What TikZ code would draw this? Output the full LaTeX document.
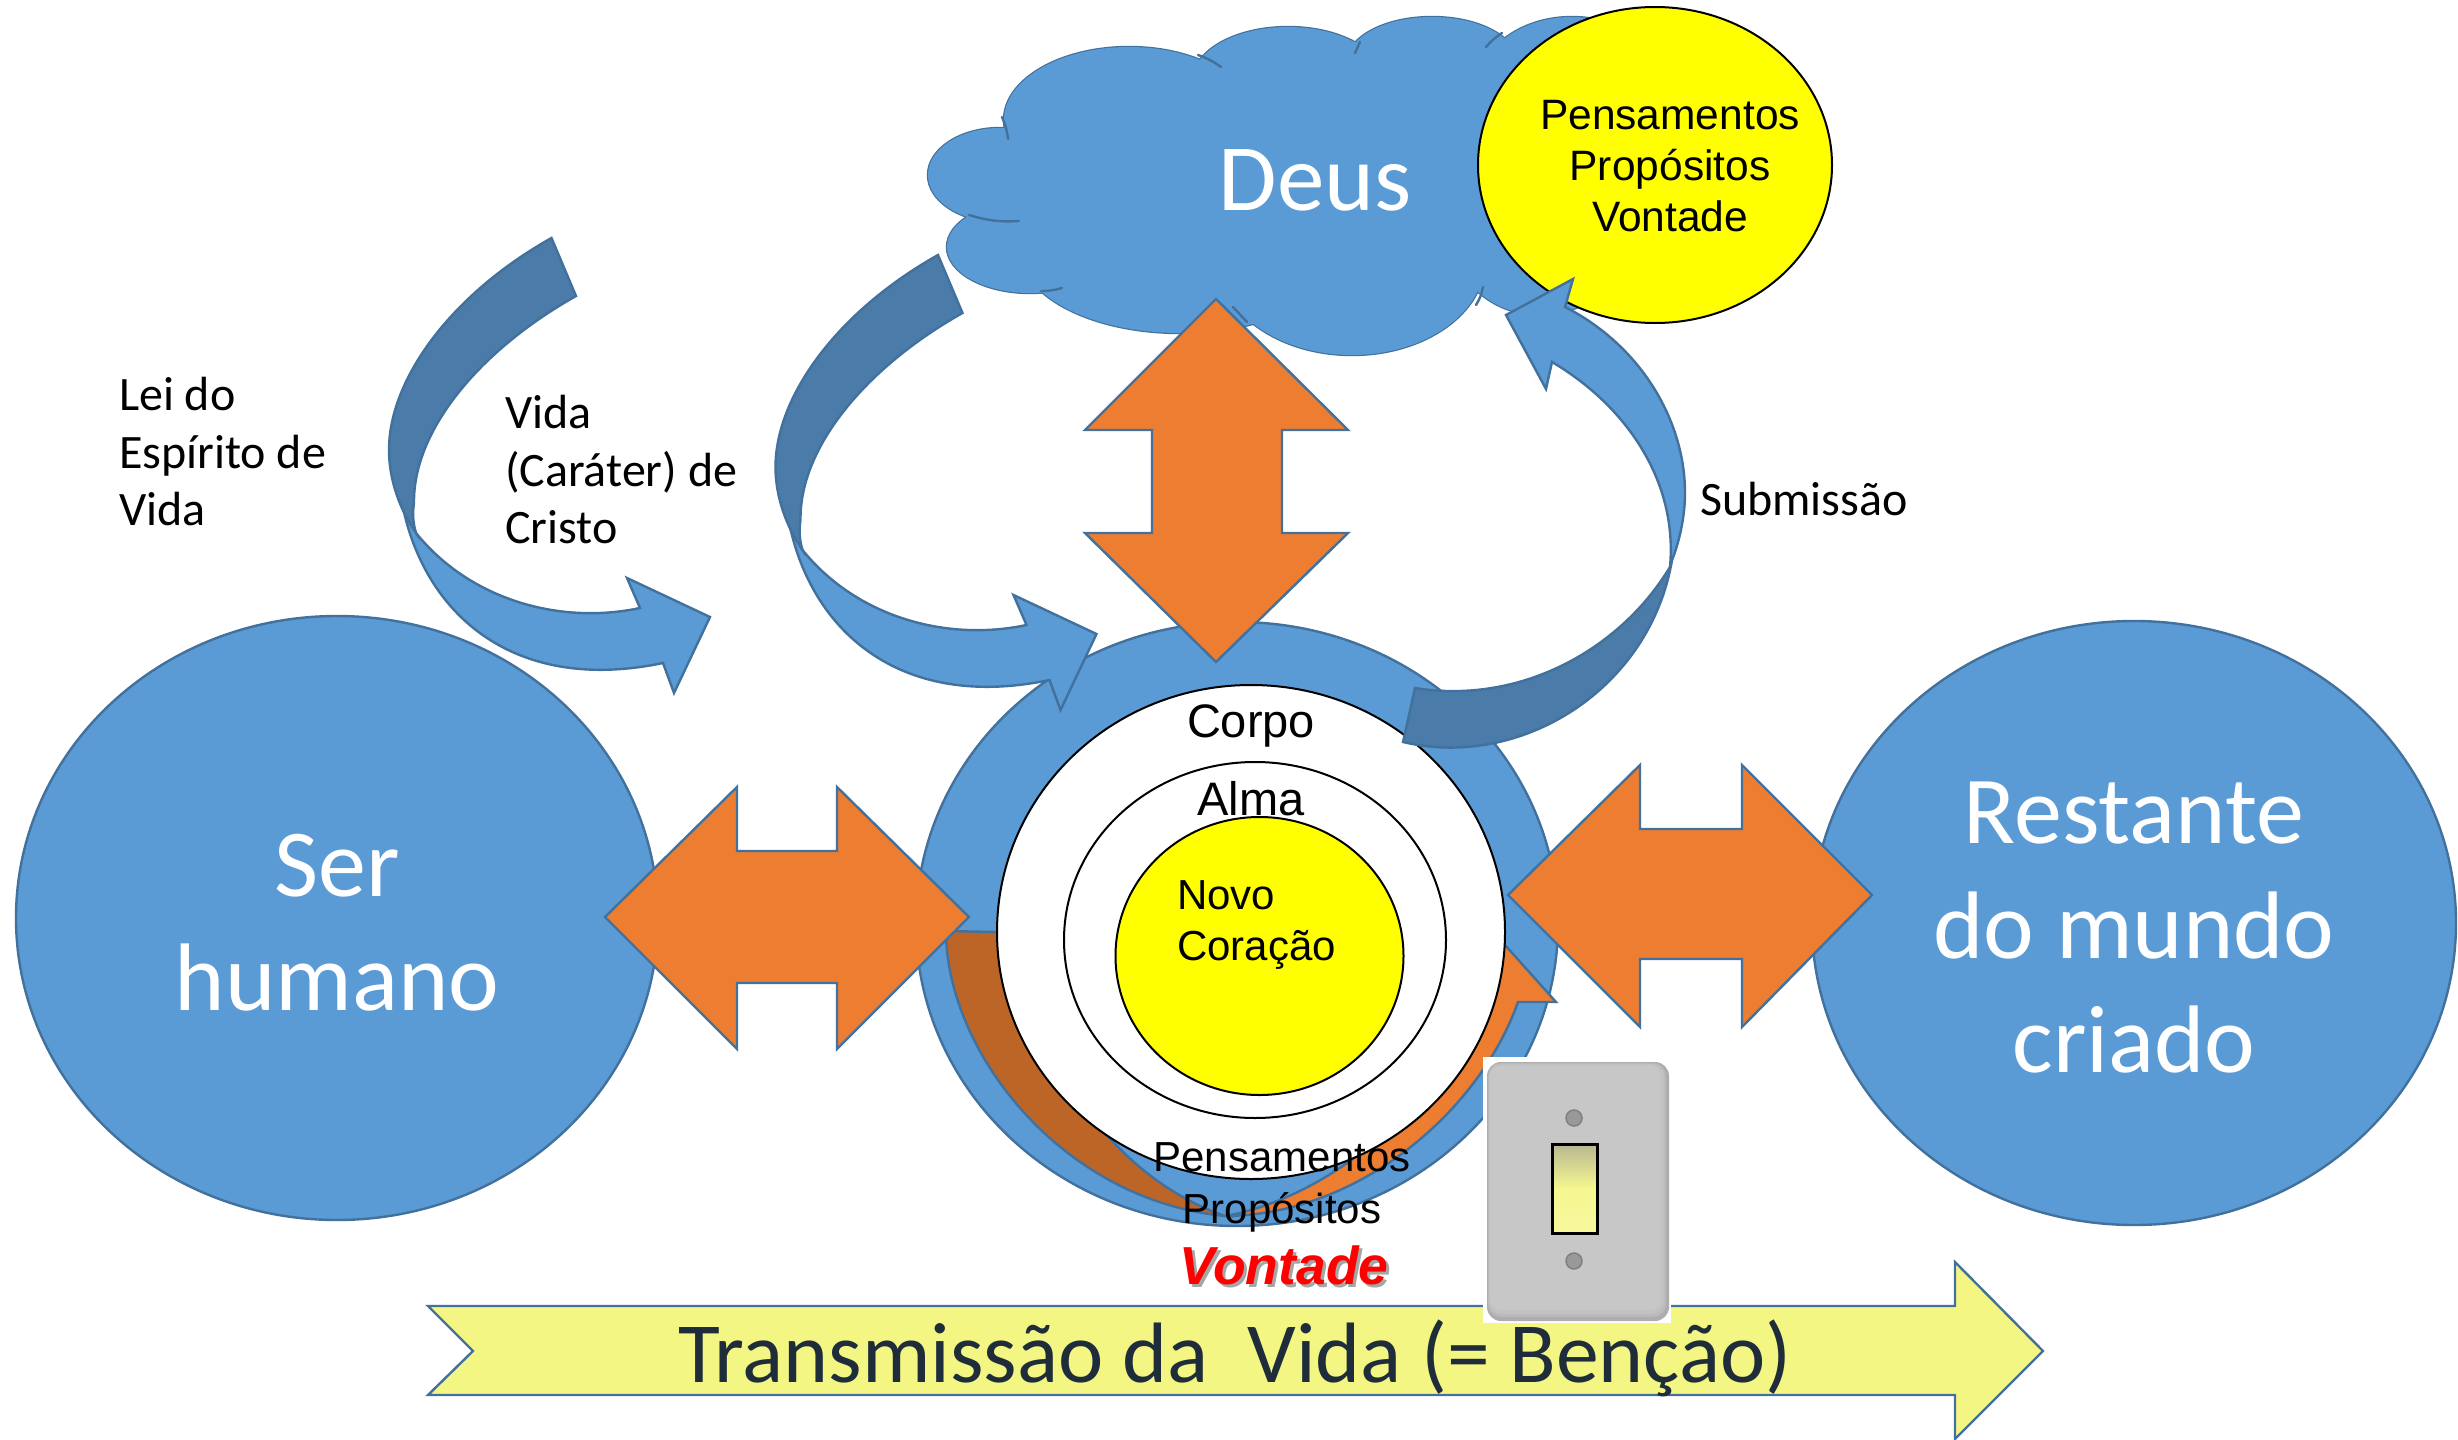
\documentclass[tikz,border=0pt]{standalone}
\usepackage{fontspec}
\setmainfont{Liberation Sans}
\newfontfamily\carl{Carlito}
\definecolor{blueF}{HTML}{5B9BD5}
\definecolor{blueD}{HTML}{4A7BA9}
\definecolor{blueS}{HTML}{41719C}
\definecolor{oranF}{HTML}{ED7D31}
\definecolor{oranD}{HTML}{BD6526}
\definecolor{yelA}{HTML}{F4F684}
\definecolor{yelB}{HTML}{FFFF00}
\definecolor{inkT}{HTML}{1F2D3A}
\newcommand{\fs}[1]{\fontsize{#1}{#1}\selectfont}
\newcommand{\curvedarrow}{%
  \path[lightpart] (401,497) .. controls (420,610) and (510,695) .. (663,663)
    -- (674,693) -- (710,617) -- (627,578) -- (640,608)
    .. controls (560,625) and (470,600) .. (416,533) -- cycle;
  \path[darkpart] (551.5,238) .. controls (450,295) and (389,380) .. (389,450)
    .. controls (389,480) and (400,510) .. (416,533)
    .. controls (412,520) and (413,510) .. (414,503)
    .. controls (413,430) and (480,350) .. (576,296) -- cycle;
}
\tikzset{
  plate/.style={fill=blueF,draw=blueS,line width=2.4pt},
  lobe/.style={draw=blueS,line width=2.4pt},
  lobefill/.style={fill=blueF},
  stub/.style={draw=blueS,line width=2.4pt,line cap=round},
  ring/.style={draw=black,line width=2pt},
  darkpart/.style={fill=blueD,draw=blueS,line width=2.4pt,line join=miter},
  lightpart/.style={fill=blueF,draw=blueS,line width=2.4pt,line join=miter},
  blockarrow/.style={fill=oranF,draw=blueS,line width=2.4pt,line join=miter},
  txt/.style={inner sep=0pt,outer sep=0pt,anchor=base},
  ltxt/.style={inner sep=0pt,outer sep=0pt,anchor=base west},
}
\begin{document}
\begin{tikzpicture}[x=1pt,y=-1pt]
\useasboundingbox (0,0) rectangle (2458,1440);
\fill[white] (0,0) rectangle (2458,1440);
% side circles
\path[plate] (337,918) ellipse [x radius=321pt,y radius=302pt];
\path[plate] (2134,923) ellipse [x radius=322pt,y radius=302pt];
% centre circle
\path[plate] (1237,924) ellipse [x radius=321pt,y radius=302pt];
% cloud
\foreach \cx/\cy/\rx/\ry in {1000/175/72/47,1030/247/83/46,1180/250/160/83,1352/260/133/95,1129/120/125/73,1288/80/95/53,1432/62/85/45,1572/90/95/73,1540/230/90/85}{
  \path[lobe] (\cx,\cy) ellipse [x radius=\rx pt,y radius=\ry pt];
}
\foreach \cx/\cy/\rx/\ry in {1000/175/72/47,1030/247/83/46,1180/250/160/83,1352/260/133/95,1129/120/125/73,1288/80/95/53,1432/62/85/45,1572/90/95/73,1540/230/90/85}{
  \path[lobefill] (\cx,\cy) ellipse [x radius=\rx pt,y radius=\ry pt];
}
\path[lobefill] (1010,170) -- (1130,90) -- (1290,60) -- (1430,50) -- (1560,60) -- (1560,280) -- (1350,300) -- (1180,300) -- (1040,260) -- cycle;
\path[stub] (1002,117) to[bend left=8] (1008,139);
\path[stub] (969,215) to[bend right=10] (1019,221);
\path[stub] (1041,291) to[bend right=8] (1062,288);
\path[stub] (1233,307) -- (1247,322);
\path[stub] (1483,287) to[bend left=10] (1476,305);
\path[stub] (1502,33) to[bend right=8] (1486,47);
\path[stub] (1355,53) -- (1360,42);
\path[stub] (1198,55) to[bend left=8] (1221,67);
% yellow ellipse top right
\path[fill=yelB,ring] (1655,165) ellipse [x radius=177pt,y radius=158pt];
\node[txt] (p1) at (1670,129) {\fs{42.5}Pensamentos};
\node[txt] (p2) at (1670,180) {\fs{42.5}Propósitos};
\node[txt] (p3) at (1670,231) {\fs{42.5}Vontade};
\node[txt,text=white] (deus) at (1315,210) {\carl\fs{95}Deus};
% bottom orange curved arrow
\path[fill=oranD,draw=blueS,line width=2.4pt] (946,931) .. controls (946,1050) and (1060,1200) .. (1225,1216)
  .. controls (1150,1190) and (1060,1120) .. (997,932) -- cycle;
\path[blockarrow] (1225,1216) .. controls (1360,1215) and (1480,1110) .. (1518,1002)
  -- (1556,1002) -- (1505,945) -- (1450,1050)
  .. controls (1390,1155) and (1290,1205) .. (1225,1216) -- cycle;
% inner circles
\path[fill=white,ring] (1251,932) ellipse [x radius=254pt,y radius=247pt];
\path[fill=white,ring] (1255,940) ellipse [x radius=191pt,y radius=178pt];
\path[fill=yelB,ring] (1259.5,956) ellipse [x radius=144pt,y radius=139pt];
% orange double arrows
\path[blockarrow] (605,917) -- (737,787) -- (737,851) -- (837,851) -- (837,787) -- (969,917) -- (837,1049) -- (837,983) -- (737,983) -- (737,1049) -- cycle;
\path[blockarrow] (1508,895) -- (1640,765) -- (1640,829) -- (1742,829) -- (1742,765) -- (1872,895) -- (1742,1027) -- (1742,959) -- (1640,959) -- (1640,1027) -- cycle;
\path[blockarrow] (1216,299) -- (1348,430) -- (1282,430) -- (1282,533) -- (1348,533) -- (1216,662) -- (1085,533) -- (1152,533) -- (1152,430) -- (1085,430) -- cycle;
% curved arrows
\curvedarrow
\begin{scope}[shift={(386.5,17)}]
\curvedarrow
\end{scope}
\path[lightpart] (1672,560) .. controls (1680,540) and (1685,515) .. (1685,493)
  .. controls (1685,420) and (1640,345) .. (1565,307)
  -- (1573,279) -- (1506,315) -- (1546,389) -- (1552,362)
  .. controls (1625,405) and (1678,480) .. (1670,567) -- cycle;
\path[darkpart] (1415,688) .. controls (1520,705) and (1620,650) .. (1670,567)
  -- (1672,560) .. controls (1650,690) and (1520,770) .. (1403,742) -- cycle;
% texts of the rings
\node[txt] (corpo) at (1251,737) {\fs{47}Corpo};
\node[txt] (alma) at (1251,815) {\fs{47}Alma};
\node[ltxt] (novo) at (1177,909) {\fs{42}Novo};
\node[ltxt] (cora) at (1177,960) {\fs{42}Coração};
\node[txt] (p4) at (1282,1171) {\fs{42}Pensamentos};
\node[txt] (p5) at (1282,1223) {\fs{42}Propósitos};
\node[txt,text=black!35] at (1287,1287) {\fs{53.5}\bfseries\itshape Vontade};
\node[txt,text=red] (vont) at (1284,1284) {\fs{53.5}\bfseries\itshape Vontade};
% circle labels
\node[txt,text=white] (ser) at (337,896) {\carl\fs{96}Ser};
\node[txt,text=white] (hum) at (337,1010) {\carl\fs{96}humano};
\node[txt,text=white] (r1) at (2134,843) {\carl\fs{96}Restante};
\node[txt,text=white] (r2) at (2134,958) {\carl\fs{96}do mundo};
\node[txt,text=white] (r3) at (2134,1072) {\carl\fs{96}criado};
% side labels
\node[ltxt] (l1) at (119,410) {\carl\fs{48}Lei do};
\node[ltxt] (l2) at (119,468) {\carl\fs{48}Espírito de};
\node[ltxt] (l3) at (119,525) {\carl\fs{48}Vida};
\node[ltxt] (v1) at (505,428) {\carl\fs{48}Vida};
\node[ltxt] (v2) at (505,486) {\carl\fs{48}(Caráter) de};
\node[ltxt] (v3) at (505,543) {\carl\fs{48}Cristo};
\node[ltxt] (sub) at (1700,515) {\carl\fs{48}Submissão};
% bottom arrow
\path[fill=yelA,draw=blueS,line width=2.4pt,line join=miter] (428,1306) -- (1955,1306) -- (1955,1262) -- (2043,1351) -- (1955,1439) -- (1955,1395) -- (428,1395) -- (473,1351) -- cycle;
\node[txt,text=inkT] (trans) at (1235,1382) {\carl\fs{85.7}Transmissão da\ \ Vida (= Benção)};
% switch
\fill[white] (1483,1057) rectangle (1671,1323);
\fill[black!32,rounded corners=14pt] (1487,1062) rectangle (1669,1321);
\fill[black!27,rounded corners=13pt] (1488,1063) rectangle (1666,1317);
\fill[black!24,rounded corners=12pt] (1489,1064) rectangle (1664,1314);
\fill[black!22,rounded corners=10pt] (1490,1066) rectangle (1661,1310);
\draw[black!50,line width=1.5pt,fill=black!40] (1574,1118) circle [radius=8pt];
\draw[black!50,line width=1.5pt,fill=black!40] (1574,1261) circle [radius=8pt];
\path[top color=yelA!55!black!60!white,bottom color=yelA!80!white,middle color=yelA!90!white,draw=black,line width=3pt] (1552,1144) rectangle (1597,1233);
\end{tikzpicture}
\end{document}
